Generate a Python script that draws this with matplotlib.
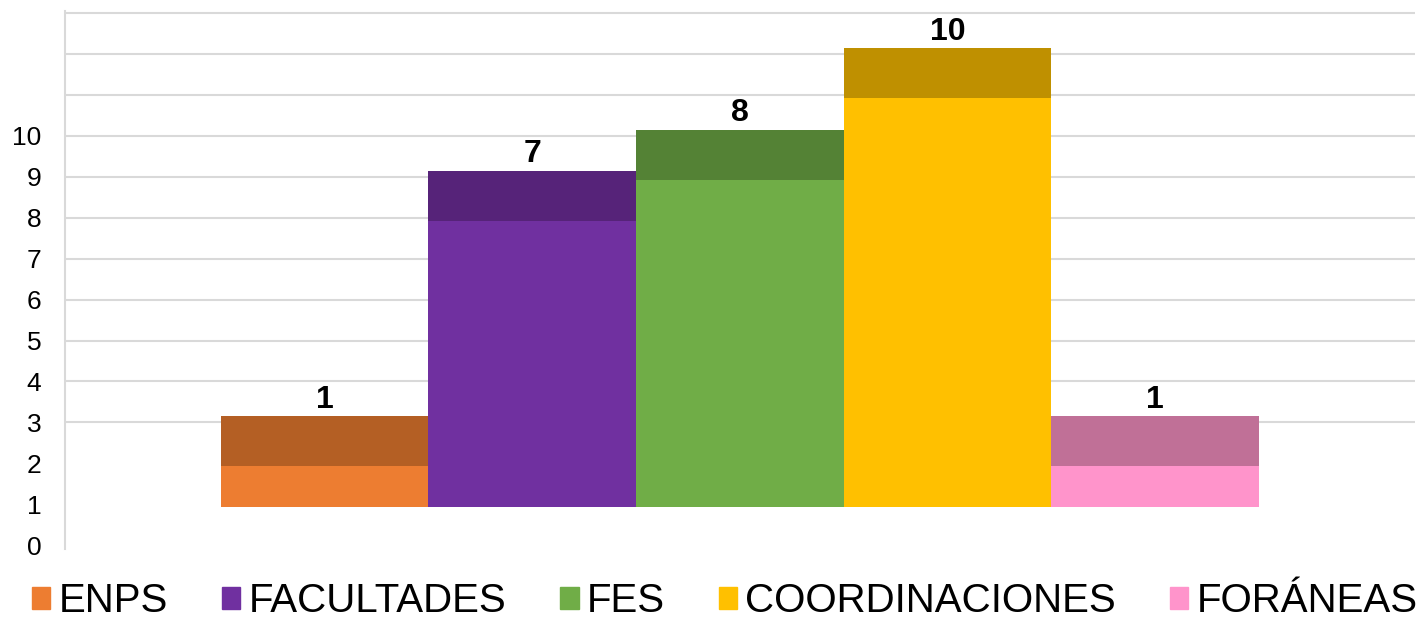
import matplotlib.pyplot as plt
from matplotlib.patches import Patch

plt.rcParams['font.family'] = ['Liberation Sans', 'DejaVu Sans']

# ── data ──────────────────────────────────────────────────────────────────────
categorias = ["ENPS", "FACULTADES", "FES", "COORDINACIONES", "FORÁNEAS"]
valores    = [1, 7, 8, 10, 1]
y_ticks    = list(range(0, 11))

# front face / top face colours (flattened 3D column look)
col_frente = ["#ED7D31", "#7030A0", "#70AD47", "#FFC000", "#FF94CB"]
col_tapa   = ["#B45F24", "#562379", "#548235", "#BF9000", "#C07097"]

BASE  = 0.93   # bars float slightly above 0 like the 3D chart
DEPTH = 1.22   # height of the darker top face

# ── plot ──────────────────────────────────────────────────────────────────────
fig = plt.figure(figsize=(14.27, 6.24), dpi=100)
ax = fig.add_axes([0.0455, 0.12, 0.946, 0.862])
ax.set_xlim(-1.25, 5.25)
ax.set_ylim(-0.1, 13.05)

ax.hlines(range(3, 14), -1.25, 5.25, color="#D9D9D9", linewidth=1.5, zorder=0)

xs = range(len(categorias))
ax.bar(xs, valores, width=1.0, bottom=BASE, color=col_frente, zorder=2)
ax.bar(xs, [DEPTH] * len(valores), width=1.0,
       bottom=[BASE + v for v in valores], color=col_tapa, zorder=2)

for x, v in zip(xs, valores):
    ax.annotate(str(v), (x, BASE + v + DEPTH), xytext=(0, 1),
                textcoords="offset points", ha="center", va="bottom",
                fontsize=23, fontweight="bold", color="black")

ax.set_yticks(y_ticks)
ax.set_yticklabels([str(t) for t in y_ticks])
ax.tick_params(axis="y", length=0, pad=17, labelsize=19)
ax.set_xticks([])
for s in ["top", "right", "bottom"]:
    ax.spines[s].set_visible(False)
ax.spines["left"].set_color("#D9D9D9")
ax.spines["left"].set_linewidth(1.5)

handles = [Patch(color=c, label=l) for c, l in zip(col_frente, categorias)]
fig.legend(handles=handles, loc="lower center", bbox_to_anchor=(0.508, -0.052),
           ncol=5, frameon=False, fontsize=29, handlelength=0.45,
           handleheight=0.45, handletextpad=0.2, columnspacing=1.35)

fig.savefig("out.png", dpi=100)
